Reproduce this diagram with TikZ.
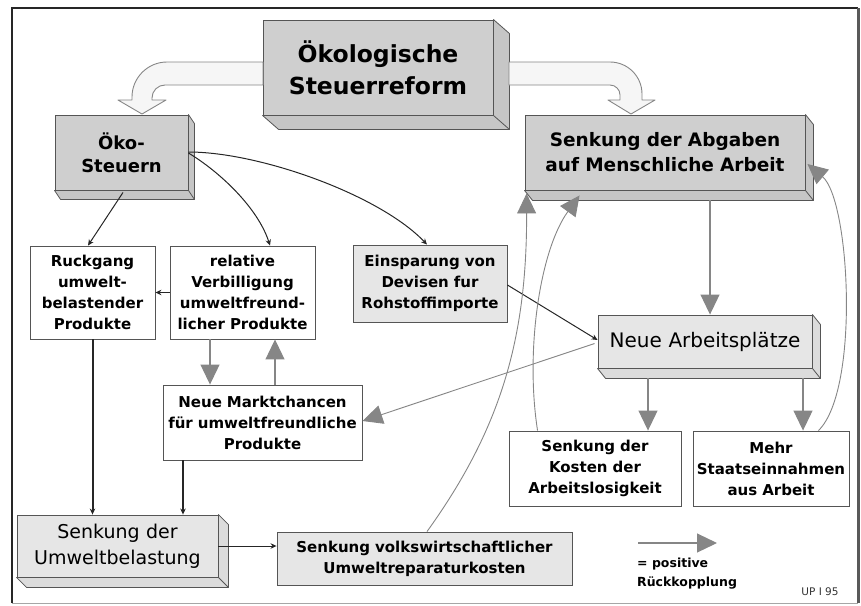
\documentclass[tikz,border=0pt]{standalone}
\usepackage{fontspec}
\setmainfont{DejaVu Sans}
\usetikzlibrary{arrows.meta,calc}
\definecolor{boxline}{HTML}{555555}
\definecolor{darkfill}{HTML}{CFCFCF}
\definecolor{darkside}{HTML}{C6C6C6}
\definecolor{lightfill}{HTML}{E6E6E6}
\definecolor{lightside}{HTML}{DCDCDC}
\definecolor{arrgray}{HTML}{868686}
\definecolor{hollowfill}{HTML}{F6F6F6}
\newcommand\boxextrude[4]{%
  \filldraw[fill=#4,draw=boxline,line width=0.8pt,line join=round]
    (#1.north east) -- ($(#1.north east)+(#2,#3)$) -- ($(#1.south east)+(#2,#3)$)
    -- ($(#1.south west)+(#2,#3)$) -- (#1.south west) -- (#1.south east) -- cycle;
  \draw[boxline,line width=0.8pt] (#1.south east) -- ($(#1.south east)+(#2,#3)$);
}
\tikzset{
  box/.style={draw=boxline, line width=0.9pt, inner sep=0pt, align=center, anchor=center},
  small/.style={font=\bfseries\fontsize{15}{21}\selectfont},
  blk/.style={draw=black!85, line width=1pt, -{Stealth[length=6pt,width=5.5pt]}},
  blkthick/.style={blk, line width=2pt},
  gry/.style={draw=arrgray, line width=1.1pt, -{Triangle[length=20pt,width=19pt]}},
  hollow/.style={fill=hollowfill, draw=arrgray, line width=0.9pt, line join=round}
}
\begin{document}
\begin{tikzpicture}[x=1pt,y=-1pt]
\useasboundingbox (0,0) rectangle (861,605);
% frame
\draw[line width=0.8pt, black!35] (12,603) -- (858,603);
\draw[line width=2pt, black!85] (12,603) -- (12,8) -- (858,8);
\draw[line width=3pt, black!65] (858,8) -- (858,603);

% boxes
\node[box, fill=darkfill, text width=230pt, minimum height=95pt,
      font=\bfseries\fontsize{23.5}{32}\selectfont] (title) at (378,67.5) {Ökologische\\Steuerreform};
\node[box, fill=darkfill, text width=133pt, minimum height=75pt,
      font=\bfseries\fontsize{18}{23}\selectfont] (oeko) at (121.5,152.5) {Öko-\\Steuern};
\node[box, fill=darkfill, text width=280pt, minimum height=75pt,
      font=\bfseries\fontsize{18.5}{25}\selectfont] (abgaben) at (665,152.5) {Senkung der Abgaben\\auf Menschliche Arbeit};
\node[box, fill=white, small, text width=125pt, minimum height=93pt] (rueck) at (92.5,292.5)
      {Ruckgang\\umwelt-\\belastender\\Produkte};
\node[box, fill=white, small, text width=145pt, minimum height=93pt] (relativ) at (242.5,292.5)
      {relative\\Verbilligung\\umweltfreund-\\licher Produkte};
\node[box, fill=lightfill, small, text width=154pt, minimum height=77pt] (einsp) at (430,283.5)
      {Einsparung von\\Devisen fur\\Rohstoffimporte};
\node[box, fill=lightfill, text width=214pt, minimum height=53pt,
      font=\fontsize{20}{25}\selectfont] (arbeit) at (705,341.5) {Neue Arbeitsplätze};
\node[box, fill=white, small, text width=199pt, minimum height=75pt] (markt) at (262.5,422.5)
      {Neue Marktchancen\\für umweltfreundliche\\Produkte};
\node[box, fill=lightfill, text width=201pt, minimum height=62pt,
      font=\fontsize{19}{26}\selectfont] (umwelt) at (117.5,546) {Senkung der\\Umweltbelastung};
\node[box, fill=lightfill, small, text width=295pt, minimum height=53pt] (volks) at (424.5,558.5)
      {Senkung volkswirtschaftlicher\\Umweltreparaturkosten};
\node[box, fill=white, small, text width=172pt, minimum height=75pt] (kosten) at (595,468.5)
      {Senkung der\\Kosten der\\Arbeitslosigkeit};
\node[box, fill=white, small, text width=156pt, minimum height=75pt] (mehr) at (771,468.5)
      {Mehr\\Staatseinnahmen\\aus Arbeit};

% 3D depth
\boxextrude{title}{16}{14}{darkside}
\boxextrude{oeko}{6}{9}{darkside}
\boxextrude{abgaben}{8}{10}{darkside}
\boxextrude{arbeit}{8}{10}{lightside}
\boxextrude{umwelt}{10}{10}{lightside}

% hollow arrows
\filldraw[hollow] (263,62) -- (167,62) .. controls (147.7,62) and (132,77.7) .. (132,97)
  -- (132,100) -- (118,100) -- (142,114) -- (166,100) -- (152,100) -- (152,98)
  .. controls (152,90.8) and (157.8,85) .. (165,85) -- (263,85) -- cycle;
\filldraw[hollow] (509,62) -- (610,62) .. controls (627.7,62) and (642,76.3) .. (642,94)
  -- (642,100) -- (655,100) -- (631,114) -- (608,100) -- (620,100) -- (620,95)
  .. controls (620,89.5) and (615.5,85) .. (610,85) -- (509,85) -- cycle;

% black connectors
\draw[blk] ($(oeko.south)+(1.5,2)$) -- ($(rueck.north)+(-4.5,0)$);
\draw[blk] ($(oeko.east)+(0,0.5)$) .. controls (220,172) and (258,208) .. ($(relativ.north)+(27.5,0)$);
\draw[blk] ($(oeko.east)+(0,-0.5)$) .. controls (260,152) and (380,195) .. ($(einsp.north)+(-3,0)$);
\draw[blk] (relativ.west) -- (rueck.east);
\draw[blkthick] (rueck.south) -- ($(umwelt.north)+(-25,0)$);
\draw[blkthick] ($(markt.south)+(-79.5,0)$) -- ($(umwelt.north)+(65.5,0)$);
\draw[blk] ($(einsp.east)+(0,1.5)$) -- ($(arbeit.west)+(0,-1.5)$);
\draw[blk] (umwelt.east) -- ($(volks.west)+(0,-12.5)$);

% gray connectors (positive feedback)
\draw[gry] ($(relativ.south)+(-32.5,0)$) -- ($(markt.north)+(-52.5,0)$);
\draw[gry] ($(markt.north)+(12.5,0)$) -- ($(relativ.south)+(32.5,0)$);
\draw[gry, line width=0.9pt] ($(arbeit.west)+(-3,2)$) -- ($(markt.east)+(0,-1.5)$);
\draw[gry] ($(abgaben.south)+(45,10)$) -- ($(arbeit.north)+(5,0)$);
\draw[gry] ($(arbeit.south)+(-57,10)$) -- ($(kosten.north)+(53,0)$);
\draw[gry] ($(arbeit.south)+(98,10)$) -- ($(mehr.north)+(32,0)$);
\draw[gry, line width=0.9pt] ($(mehr.north east)+(-31,0)$) .. controls (860,390) and (850,200) .. ($(abgaben.east)+(2,11.5)$);
\draw[gry, line width=0.9pt] ($(kosten.north west)+(29,0)$) .. controls (525,350) and (540,250) .. ($(abgaben.south west)+(55,5)$);
\draw[gry, line width=0.9pt] ($(volks.north)+(2.5,0)$) .. controls (500,430) and (527,340) .. ($(abgaben.south west)+(2,3)$);

% legend
\coordinate (legA) at (638,543);
\coordinate (legB) at (717,543);
\draw[gry] (legA) -- (legB);
\node[anchor=north west, inner sep=0pt, align=left, font=\bfseries\fontsize{12.5}{19}\selectfont]
  (legtext) at (637,558) {= positive\\Rückkopplung};
\node[inner sep=0pt, font=\fontsize{10.5}{12}\selectfont, text=black!80] (upi) at (820,592) {UP I 95};
\end{tikzpicture}
\end{document}
